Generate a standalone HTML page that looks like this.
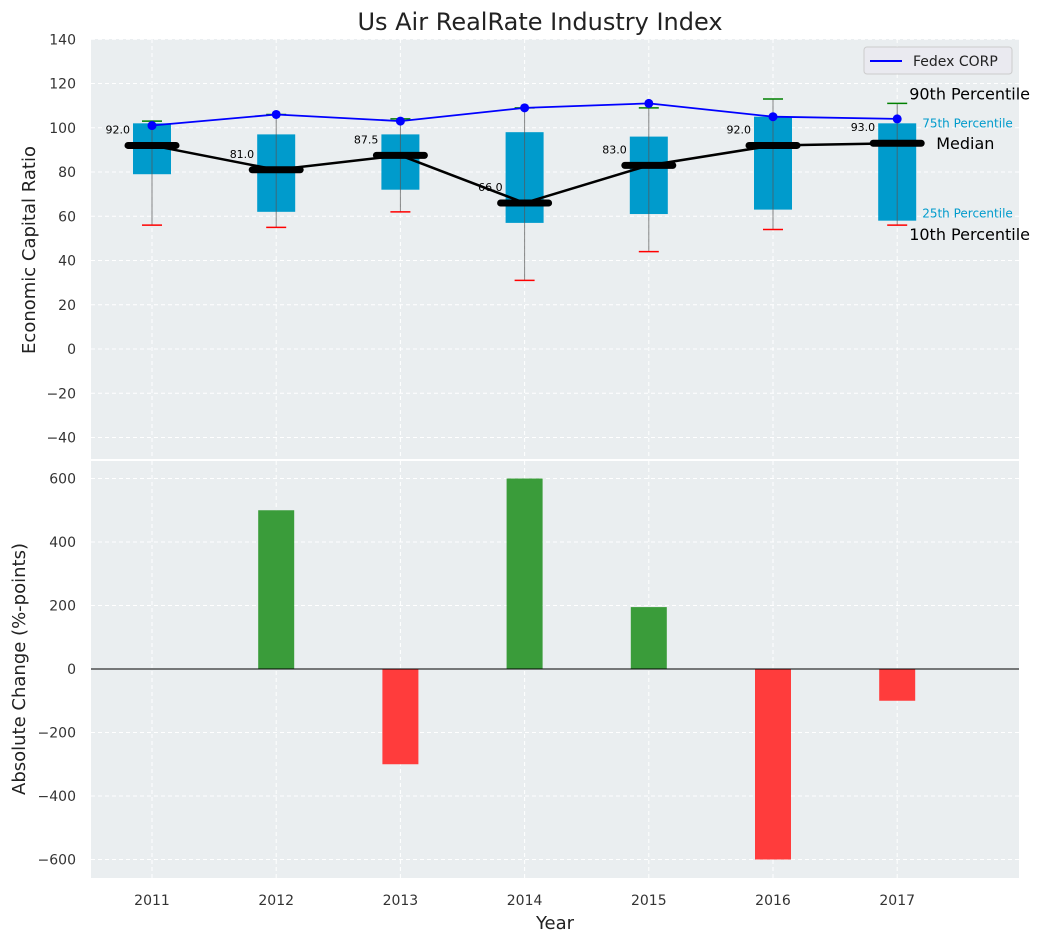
<!DOCTYPE html>
<html><head><meta charset="utf-8"><style>
body{margin:0;background:#fff;}
text{font-family:"DejaVu Sans","Liberation Sans",sans-serif;}
</style></head><body>
<svg id="c" width="1044" height="942" xmlns="http://www.w3.org/2000/svg">
<text x="540" y="30" font-size="24" text-anchor="middle" fill="#222">Us Air RealRate Industry Index</text>
<g id="topg"></g><g id="botg"></g>
</svg>
<script>
const years=[2011,2012,2013,2014,2015,2016,2017];
const p10=[56,55,62,31,44,54,56];
const p25=[79,62,72,57,61,63,58];
const med=[92,81,87.5,66,83,92,93];
const p75=[102,97,97,98,96,105,102];
const p90=[103,106,104,109,109,113,111];
const fedex=[101,106,103,109,111,105,104];
const change=[0,500,-300,600,195,-600,-100];
const topTicks=[140,120,100,80,60,40,20,0,-20,-40];
const botTicks=[600,400,200,0,-200,-400,-600];

const NS="http://www.w3.org/2000/svg";
const L=91,R=1019;
const X=y=>152+(y-2011)*124.2;
const YT=v=>349-v*2.2125;
const YB=v=>669-v*0.3175;
function el(p,tag,a,t){const e=document.createElementNS(NS,tag);for(const k in a)e.setAttribute(k,a[k]);if(t!==undefined)e.textContent=t;p.appendChild(e);return e;}
const gTop=document.getElementById('topg'),gBot=document.getElementById('botg');
let e;
e=el(gTop,'rect',{x:L,y:39,width:R-L,height:420,fill:'#eaeef0'});

e=el(gBot,'rect',{x:L,y:461,width:R-L,height:417,fill:'#eaeef0'});

years.forEach(y=>{
 e=el(gTop,'line',{x1:X(y),x2:X(y),y1:39,y2:459,stroke:'#fff','stroke-dasharray':'4,3','stroke-width':1});
 
 e=el(gBot,'line',{x1:X(y),x2:X(y),y1:461,y2:878,stroke:'#fff','stroke-dasharray':'4,3','stroke-width':1});
 
 e=el(gBot,'text',{x:X(y),y:905,'font-size':14,'text-anchor':'middle',fill:'#333'},y);
 
});
topTicks.forEach(v=>{
 e=el(gTop,'line',{x1:L,x2:R,y1:YT(v),y2:YT(v),stroke:'#fff','stroke-dasharray':'4,3'});
 
 e=el(gTop,'text',{x:76,y:YT(v)+5,'font-size':14,'text-anchor':'end',fill:'#333'},String(v).replace('-','\u2212'));
 
});
botTicks.forEach(v=>{
 e=el(gBot,'line',{x1:L,x2:R,y1:YB(v),y2:YB(v),stroke:'#fff','stroke-dasharray':'4,3'});
 
 e=el(gBot,'text',{x:76,y:YB(v)+5,'font-size':14,'text-anchor':'end',fill:'#333'},String(v).replace('-','\u2212'));
 
});
years.forEach((y,i)=>{
 const x=X(y);
 e=el(gTop,'rect',{x:x-19,y:YT(p75[i]),width:38,height:YT(p25[i])-YT(p75[i]),fill:'#009bcc'});
 
 e=el(gTop,'line',{x1:x,x2:x,y1:YT(p10[i]),y2:YT(p90[i]),stroke:'#555','stroke-opacity':0.7,'stroke-width':1});
 
 e=el(gTop,'line',{x1:x-10,x2:x+10,y1:YT(p90[i]),y2:YT(p90[i]),stroke:'green','stroke-width':1.5});
 
 e=el(gTop,'line',{x1:x-10,x2:x+10,y1:YT(p10[i]),y2:YT(p10[i]),stroke:'red','stroke-width':1.5});
 
});
e=el(gTop,'polyline',{points:years.map((y,i)=>X(y)+','+YT(med[i])).join(' '),fill:'none',stroke:'#000','stroke-width':2.5});

years.forEach((y,i)=>{
 e=el(gTop,'line',{x1:X(y)-24,x2:X(y)+24,y1:YT(med[i]),y2:YT(med[i]),stroke:'#000','stroke-width':7,'stroke-linecap':'round'});
 
 e=el(gTop,'text',{x:X(y)-22,y:YT(med[i])-12,'font-size':11,'text-anchor':'end',fill:'#000'},med[i].toFixed(1));
 
});
e=el(gTop,'polyline',{points:years.map((y,i)=>X(y)+','+YT(fedex[i])).join(' '),fill:'none',stroke:'blue','stroke-width':1.8});

years.forEach((y,i)=>{
 e=el(gTop,'circle',{cx:X(y),cy:YT(fedex[i]),r:4.5,fill:'blue'});
 
});
const lx=X(2017);
e=el(gTop,'text',{x:lx+12,y:YT(p90[6])-4,'font-size':16,fill:'#000'},'90th Percentile');
e=el(gTop,'text',{x:lx+25,y:YT(p75[6])+4,'font-size':12,fill:'#009bcc'},'75th Percentile');
e=el(gTop,'text',{x:lx+39,y:YT(med[6])+6,'font-size':16,fill:'#000'},'Median');
e=el(gTop,'text',{x:lx+25,y:YT(p25[6])-3,'font-size':12,fill:'#009bcc'},'25th Percentile');
e=el(gTop,'text',{x:lx+12,y:YT(p10[6])+15,'font-size':16,fill:'#000'},'10th Percentile');
const lg=el(gTop,'g',{});


el(lg,'rect',{x:864,y:47,width:148,height:27,rx:3,fill:'#eaeaf0',stroke:'#ccc'});
el(lg,'line',{x1:870,x2:902,y1:61,y2:61,stroke:'blue','stroke-width':2});
e=el(lg,'text',{x:913,y:66,'font-size':14,fill:'#222'},'Fedex CORP');
years.forEach((y,i)=>{
 const v=change[i];if(v===0)return;
 e=el(gBot,'rect',{x:X(y)-18,y:Math.min(YB(v),YB(0)),width:36,height:Math.abs(YB(v)-YB(0)),fill:v>0?'#3a9c3a':'#ff3c3c'});
 
});
e=el(gBot,'line',{x1:L,x2:R,y1:YB(0),y2:YB(0),stroke:'#000','stroke-width':1});

e=el(gTop,'text',{x:0,y:0,'font-size':18,'text-anchor':'middle',fill:'#222',transform:'translate(35,250) rotate(-90)'},'Economic Capital Ratio');

e=el(gBot,'text',{x:0,y:0,'font-size':18,'text-anchor':'middle',fill:'#222',transform:'translate(25,669) rotate(-90)'},'Absolute Change (%-points)');

e=el(gBot,'text',{x:555,y:929,'font-size':18,'text-anchor':'middle',fill:'#222'},'Year');

</script>
</body></html>
